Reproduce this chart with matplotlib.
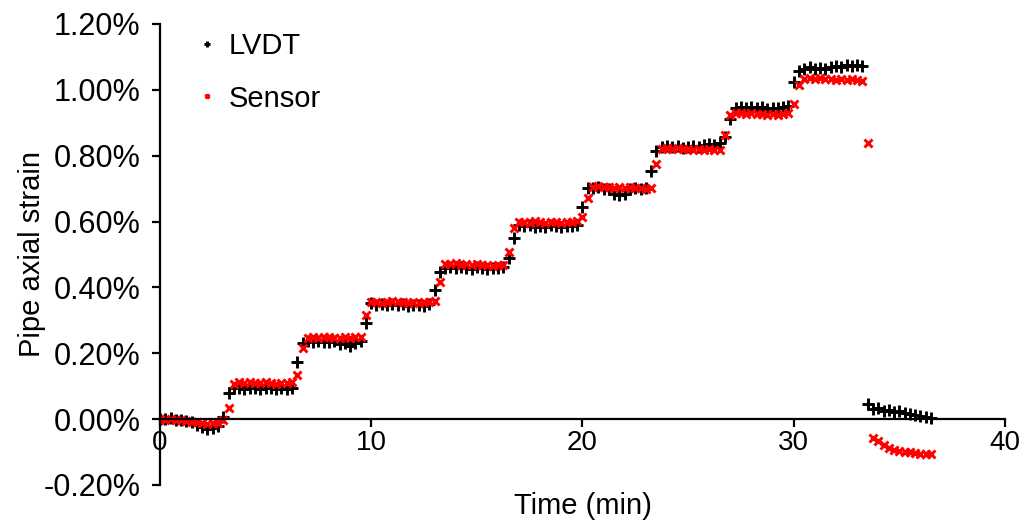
import matplotlib
matplotlib.use("Agg")
import matplotlib.pyplot as plt
from matplotlib.ticker import FuncFormatter

plt.rcParams['font.family'] = ['Liberation Sans', 'DejaVu Sans']

# time in minutes, one row per minute
time_min = [
    0.0, 0.25, 0.5, 0.75,
    1.0, 1.25, 1.5, 1.75,
    2.0, 2.25, 2.5, 2.75,
    3.0, 3.25, 3.5, 3.75,
    4.0, 4.25, 4.5, 4.75,
    5.0, 5.25, 5.5, 5.75,
    6.0, 6.25, 6.5, 6.75,
    7.0, 7.25, 7.5, 7.75,
    8.0, 8.25, 8.5, 8.75,
    9.0, 9.25, 9.5, 9.75,
    10.0, 10.25, 10.5, 10.75,
    11.0, 11.25, 11.5, 11.75,
    12.0, 12.25, 12.5, 12.75,
    13.0, 13.25, 13.5, 13.75,
    14.0, 14.25, 14.5, 14.75,
    15.0, 15.25, 15.5, 15.75,
    16.0, 16.25, 16.5, 16.75,
    17.0, 17.25, 17.5, 17.75,
    18.0, 18.25, 18.5, 18.75,
    19.0, 19.25, 19.5, 19.75,
    20.0, 20.25, 20.5, 20.75,
    21.0, 21.25, 21.5, 21.75,
    22.0, 22.25, 22.5, 22.75,
    23.0, 23.25, 23.5, 23.75,
    24.0, 24.25, 24.5, 24.75,
    25.0, 25.25, 25.5, 25.75,
    26.0, 26.25, 26.5, 26.75,
    27.0, 27.25, 27.5, 27.75,
    28.0, 28.25, 28.5, 28.75,
    29.0, 29.25, 29.5, 29.75,
    30.0, 30.25, 30.5, 30.75,
    31.0, 31.25, 31.5, 31.75,
    32.0, 32.25, 32.5, 32.75,
    33.0, 33.25, 33.5, 33.75,
    34.0, 34.25, 34.5, 34.75,
    35.0, 35.25, 35.5, 35.75,
    36.0, 36.25, 36.5,
]

# strain in percent
lvdt = [
    0.000, 0.001, 0.004, -0.003,
    -0.002, -0.006, -0.010, -0.018,
    -0.024, -0.030, -0.026, -0.022,
    0.005, 0.079, 0.093, 0.095,
    0.092, 0.096, 0.094, 0.091,
    0.095, 0.093, 0.090, 0.094,
    0.092, 0.096, 0.173, 0.232,
    0.236, 0.234, 0.237, 0.233,
    0.235, 0.236, 0.228, 0.232,
    0.223, 0.230, 0.236, 0.292,
    0.352, 0.348, 0.350, 0.346,
    0.349, 0.347, 0.350, 0.345,
    0.348, 0.346, 0.343, 0.349,
    0.392, 0.447, 0.458, 0.461,
    0.459, 0.462, 0.460, 0.457,
    0.461, 0.459, 0.456, 0.460,
    0.458, 0.462, 0.489, 0.550,
    0.590, 0.586, 0.588, 0.583,
    0.587, 0.584, 0.588, 0.585,
    0.583, 0.587, 0.586, 0.589,
    0.644, 0.703, 0.701, 0.704,
    0.700, 0.698, 0.683, 0.680,
    0.684, 0.699, 0.702, 0.698,
    0.701, 0.754, 0.815, 0.826,
    0.829, 0.825, 0.828, 0.824,
    0.827, 0.830, 0.826, 0.833,
    0.836, 0.832, 0.838, 0.858,
    0.910, 0.946, 0.949, 0.944,
    0.947, 0.945, 0.948, 0.943,
    0.946, 0.944, 0.947, 0.950,
    1.025, 1.058, 1.064, 1.068,
    1.062, 1.066, 1.063, 1.069,
    1.072, 1.070, 1.074, 1.072,
    1.075, 1.071, 0.046, 0.030,
    0.034, 0.026, 0.029, 0.022,
    0.024, 0.018, 0.016, 0.012,
    0.008, 0.005, 0.002,
]

sensor = [
    0.000, -0.002, 0.001, -0.003,
    -0.004, -0.006, -0.008, -0.010,
    -0.012, -0.014, -0.013, -0.011,
    -0.004, 0.035, 0.108, 0.112,
    0.110, 0.113, 0.111, 0.109,
    0.112, 0.110, 0.108, 0.111,
    0.109, 0.113, 0.134, 0.216,
    0.247, 0.249, 0.246, 0.250,
    0.248, 0.245, 0.247, 0.249,
    0.246, 0.248, 0.250, 0.316,
    0.355, 0.357, 0.354, 0.356,
    0.358, 0.355, 0.357, 0.354,
    0.356, 0.353, 0.355, 0.357,
    0.358, 0.416, 0.472, 0.470,
    0.473, 0.469, 0.471, 0.468,
    0.470, 0.467, 0.469, 0.466,
    0.468, 0.467, 0.508, 0.580,
    0.598, 0.600, 0.597, 0.601,
    0.599, 0.596, 0.598, 0.600,
    0.597, 0.599, 0.598, 0.601,
    0.614, 0.672, 0.705, 0.707,
    0.704, 0.706, 0.703, 0.705,
    0.702, 0.704, 0.701, 0.703,
    0.700, 0.702, 0.775, 0.821,
    0.823, 0.820, 0.822, 0.819,
    0.821, 0.818, 0.820, 0.817,
    0.819, 0.816, 0.818, 0.862,
    0.925, 0.929, 0.931, 0.927,
    0.930, 0.926, 0.928, 0.925,
    0.927, 0.924, 0.926, 0.929,
    0.958, 1.015, 1.034, 1.036,
    1.033, 1.035, 1.032, 1.034,
    1.031, 1.033, 1.030, 1.032,
    1.029, 1.028, 0.839, -0.057,
    -0.065, -0.080, -0.088, -0.093,
    -0.096, -0.099, -0.101, -0.103,
    -0.105, -0.106, -0.107,
]

yticks = [-0.2, 0.0, 0.2, 0.4, 0.6, 0.8, 1.0, 1.2]
xticks = [0, 10, 20, 30, 40]

fig = plt.figure(figsize=(10.28, 5.23), dpi=100)
ax = fig.add_axes([0.1556, 0.0727, 0.8220, 0.8815])

ax.plot(time_min, lvdt, linestyle='none', marker='+', color='black',
        markersize=8, markeredgewidth=2.1, label='LVDT')
ax.plot(time_min, sensor, linestyle='none', marker='x', color='#ff0000',
        markersize=6, markeredgewidth=2.1, label='Sensor')

ax.set_xlim(0, 40)
ax.set_ylim(-0.2, 1.2)
ax.set_xticks(xticks)
ax.set_yticks(yticks)
ax.yaxis.set_major_formatter(FuncFormatter(lambda v, p: '%.2f%%' % v))

ax.spines['top'].set_visible(False)
ax.spines['right'].set_visible(False)
ax.spines['bottom'].set_position(('data', 0))
ax.spines['left'].set_linewidth(1.6)
ax.spines['bottom'].set_linewidth(1.6)
ax.tick_params(axis='both', direction='out', length=6, width=1.6)
ax.tick_params(axis='y', labelsize=22, pad=8)
ax.tick_params(axis='x', labelsize=20, pad=1.5)

ax.set_xlabel('Time (min)', fontsize=21)
ax.set_ylabel('Pipe axial strain', fontsize=21)
ax.xaxis.set_label_coords(0.5, -0.015)
ax.yaxis.set_label_coords(-0.135, 0.5)

ax.legend(loc='upper left', bbox_to_anchor=(0.012, 1.04), frameon=False,
          fontsize=21, markerscale=0.55, handlelength=0.7, handletextpad=0.4,
          labelspacing=0.85)

fig.savefig('out.png', dpi=100)
